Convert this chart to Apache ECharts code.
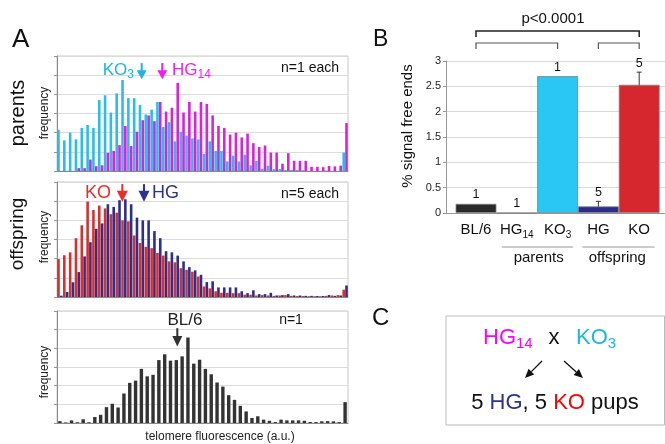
<!DOCTYPE html>
<html><head><meta charset="utf-8">
<script src="https://cdn.jsdelivr.net/npm/echarts@6/dist/echarts.min.js"></script>
<style>html,body{margin:0;padding:0;background:#fff}#c{width:665px;height:444px}</style>
</head><body><div id="c"></div>
<script>
// ---------- DATA ----------
const bins = Array.from({length: 50}, (_, i) => String(i + 1));   // histogram bin labels
const parentsKO3 = [2.15,1.6,2.0,1.65,2.25,2.4,2.25,3.7,3.95,3.05,4.05,4.75,3.8,3.8,3.45,2.95,3.2,3.6,2.3,2.55,1.55,2.05,1.85,1.7,1.65,0.9,1.55,1.05,1.05,0.5,0.8,0.5,0.85,0.3,0.53,0.12,0.28,0.1,0.1,0.05,0.06,0.05,0.04,0,0,0,0.02,0,0,0.96];
const parentsHG14 = [0,0,0,0.15,0.15,0.6,0.25,0.3,0.95,1.05,1.35,2.35,1.3,2.05,2.65,2.9,2.6,3.6,3.1,3.3,4.6,3.05,3.6,3.1,3.6,3.5,2.9,2.35,2.25,1.9,2.0,1.75,1.95,1.45,1.25,1.33,0.96,0.96,0.38,0.93,0.53,0.53,0.53,0.22,0.22,0.2,0.26,0.24,0.28,2.5];
const offspringKO = [1.98,2.18,2.33,3.07,3.74,4.98,4.54,4.77,4.62,4.32,4.4,4.0,3.95,3.21,2.82,2.62,2.55,2.3,2.16,1.86,1.81,1.5,1.42,1.32,1.07,0.55,0.45,0.3,0.22,0.22,0.2,0.2,0.12,0.12,0.08,0.1,0.08,0.06,0.08,0.1,0.06,0.05,0.05,0.04,0.04,0.04,0.06,0.08,0.1,0.38];
const offspringHG = [0.07,0.26,0.77,1.3,2.12,2.86,3.56,3.84,4.84,4.7,5.05,5.1,4.84,4.14,4.0,4.0,3.44,3.07,2.39,2.33,2.16,1.86,1.56,1.39,1.16,0.78,0.82,0.5,0.5,0.5,0.5,0.3,0.2,0.35,0.15,0.15,0.22,0.08,0.1,0.15,0.08,0.08,0.06,0.06,0.05,0.05,0.1,0.06,0.08,0.6];
const bl6 = [0.1,0.03,0.14,0.04,0.2,0.04,0.32,0.44,0.85,1.03,0.83,1.58,2.15,2.27,2.9,2.5,2.58,3.37,3.68,3.34,3.37,3.57,4.58,3.18,3.39,2.9,2.61,2.17,1.95,1.49,1.24,0.92,0.62,0.27,0.36,0.18,0.12,0.05,0.18,0.14,0.14,0.14,0.12,0.05,0.05,0.09,0.1,0.09,0.05,1.12];

const bCats = ['BL/6', 'HG14', 'KO3', 'HG', 'KO'];
const bValues = [0.18, 0, 2.70, 0.13, 2.53];
const bErrors = [0, 0, 0, 0.10, 0.25];
const bN = ['1', '1', '1', '5', '5'];

// ---------- STYLE ----------
const FF = "'Liberation Sans', Arial, Helvetica, sans-serif";
const C_CYAN = '#2bbde8', C_MAG = '#d922d9', C_RED = '#d8302f', C_BLUE = '#2d2f8e', C_DARK = '#333333';
const bColors = ['#2a2a2a', '#ff00ff', '#2ac6f4', '#2b2d8c', '#d6272e'];

const chart = echarts.init(document.getElementById('c'), null, {renderer: 'canvas'});

function histX(g) {
  return {type: 'category', gridIndex: g, data: bins, boundaryGap: true,
    axisLabel: {show: false}, axisTick: {show: false}, splitLine: {show: false},
    axisLine: {show: true, lineStyle: {color: '#8a8a8a', width: 1}}};
}
function histY(g) {
  return {type: 'value', gridIndex: g, min: 0, max: 6, interval: 1,
    axisLabel: {show: false},
    axisTick: {show: true, length: 3, lineStyle: {color: '#9a9a9a'}},
    axisLine: {show: true, lineStyle: {color: '#8a8a8a'}},
    splitLine: {show: true, lineStyle: {color: '#dcdcdc'}}};
}
function histBar(arr, g, color, w, gap) {
  return {type: 'bar', xAxisIndex: g, yAxisIndex: g, data: arr, barWidth: w, barGap: gap || '8%',
    itemStyle: {color: color}, silent: true};
}

const gridBox = {show: true, borderColor: '#c8c8c8', borderWidth: 1};
const option = {
  animation: false,
  backgroundColor: '#fff',
  grid: [
    Object.assign({left: 57, top: 56, width: 291, height: 115}, gridBox),
    Object.assign({left: 57, top: 182, width: 291, height: 115}, gridBox),
    Object.assign({left: 57, top: 311, width: 291, height: 112}, gridBox),
    {left: 455.6, top: 61, width: 204, height: 152},
    {left: 446, top: 61, width: 219, height: 152}
  ],
  xAxis: [histX(0), histX(1), histX(2),
    {type: 'category', gridIndex: 3, data: bCats,
      axisLine: {show: false}, axisTick: {show: false},
      axisLabel: {margin: 7, interval: 0,
        formatter: v => /^[A-Z]+\d+$/.test(v) ? v.replace(/^([A-Z]+)(\d+)$/, '{m|$1}{s|$2}') : '{m|' + v + '}',
        rich: {m: {fontSize: 15, lineHeight: 20, fontFamily: FF, color: '#111'},
               s: {fontSize: 10, lineHeight: 10, verticalAlign: 'bottom', fontFamily: FF, color: '#111'}}}},
    {type: 'value', gridIndex: 4, min: 0, max: 1, axisLabel: {show: false}, axisTick: {show: false},
      splitLine: {show: false}, axisLine: {show: true, lineStyle: {color: '#999'}}}
  ],
  yAxis: [histY(0), histY(1), histY(2),
    {type: 'value', gridIndex: 3, min: 0, max: 3, interval: 0.5, show: false},
    {type: 'value', gridIndex: 4, min: 0, max: 3, interval: 0.5,
      axisLabel: {fontSize: 11, color: '#222', fontFamily: FF, margin: 5},
      axisTick: {show: true, length: 3, lineStyle: {color: '#999'}},
      axisLine: {show: true, lineStyle: {color: '#999'}},
      splitLine: {lineStyle: {color: '#d9d9d9'}}}
  ],
  series: [
    histBar(parentsKO3, 0, C_CYAN, 2.6),
    histBar(parentsHG14, 0, C_MAG, 2.6),
    histBar(offspringKO, 1, C_RED, 2.6),
    histBar(offspringHG, 1, C_BLUE, 2.6),
    histBar(bl6, 2, C_DARK, 3.4),
    {type: 'bar', xAxisIndex: 3, yAxisIndex: 3, barCategoryGap: '0%',
      data: bValues.map((v, i) => ({value: v, itemStyle: {color: bColors[i]}})),
      itemStyle: {borderColor: '#7d7d7d', borderWidth: 0.8}, silent: true},
    {type: 'custom', xAxisIndex: 3, yAxisIndex: 3, silent: true,
      data: bValues.map((v, i) => [i, v, bErrors[i]]),
      renderItem: function (params, api) {
        const i = api.value(0), v = api.value(1), e = api.value(2);
        const top = api.coord([i, v + e]);
        const children = [];
        if (e > 0) {
          const bot = api.coord([i, v - e]);
          const x = top[0];
          const st = {stroke: '#333', lineWidth: 1};
          children.push({type: 'line', shape: {x1: x, y1: top[1], x2: x, y2: bot[1]}, style: st});
          children.push({type: 'line', shape: {x1: x - 2.5, y1: top[1], x2: x + 2.5, y2: top[1]}, style: st});
          children.push({type: 'line', shape: {x1: x - 2.5, y1: bot[1], x2: x + 2.5, y2: bot[1]}, style: st});
        }
        children.push({type: 'text', x: top[0], y: top[1] - 9,
          style: {text: bN[params.dataIndex], fontSize: 12.5, fontFamily: FF, fill: '#111', align: 'center', verticalAlign: 'middle'}});
        return {type: 'group', children: children};
      }}
  ]
};
chart.setOption(option);

// ---------- ANNOTATIONS ----------
// position in bin units (fractional) -> pixel, interpolated between category centres
function px(g, xv, yv) {
  const i0 = Math.floor(xv), f = xv - i0;
  const a = chart.convertToPixel({gridIndex: g}, [i0, yv]);
  const b = chart.convertToPixel({gridIndex: g}, [i0 + 1, yv]);
  return [a[0] + (b[0] - a[0]) * f, a[1]];
}
function downArrow(g, xv, yTop, yTip, color, headLen, headW, shaftW) {
  const p1 = px(g, xv, yTop), p2 = px(g, xv, yTip);
  const x = p1[0];
  return [
    {type: 'line', shape: {x1: x, y1: p1[1], x2: x, y2: p2[1] - headLen + 1}, style: {stroke: color, lineWidth: shaftW}},
    {type: 'polygon', shape: {points: [[x - headW / 2, p2[1] - headLen], [x + headW / 2, p2[1] - headLen], [x, p2[1]]]}, style: {fill: color}}
  ];
}
function arrow(x1, y1, x2, y2, color, headLen, headW, lw) {
  const a = Math.atan2(y2 - y1, x2 - x1);
  const bx = x2 - headLen * Math.cos(a), by = y2 - headLen * Math.sin(a);
  const nx = -Math.sin(a) * headW / 2, ny = Math.cos(a) * headW / 2;
  return [
    {type: 'line', shape: {x1: x1, y1: y1, x2: bx, y2: by}, style: {stroke: color, lineWidth: lw}},
    {type: 'polygon', shape: {points: [[bx + nx, by + ny], [bx - nx, by - ny], [x2, y2]]}, style: {fill: color}}
  ];
}
function T(x, y, text, size, color, align, extra) {
  return Object.assign({type: 'text', x: x, y: y, style: Object.assign({text: text, fontSize: size, fontFamily: FF,
    fill: color, align: align || 'left', verticalAlign: 'middle'}, (extra && extra.style) || {})}, (extra && extra.el) || {});
}
function subText(x, y, main, sub, size, color, align) {
  return {type: 'text', x: x, y: y, style: {text: '{m|' + main + '}{s|' + sub + '}', align: align || 'left', verticalAlign: 'middle',
    rich: {m: {fontSize: size, lineHeight: size + 5, fontFamily: FF, fill: color},
           s: {fontSize: Math.round(size * 0.68), lineHeight: Math.round(size * 0.68), verticalAlign: 'bottom', fontFamily: FF, fill: color}}}};
}
const rot = Math.PI / 2;
const cx = i => chart.convertToPixel({gridIndex: 3}, [i, 0])[0];

const g = [];
// Panel letters
g.push(T(12, 40, 'A', 26, '#111'));
g.push(T(373, 40, 'B', 23, '#111'));
g.push(T(372, 318, 'C', 24, '#111'));
// Panel A labels
g.push(T(18, 113, 'parents', 20, '#111', 'center', {el: {rotation: rot}}));
g.push(T(18, 234, 'offspring', 19, '#111', 'center', {el: {rotation: rot}}));
g.push(T(45, 113, 'frequency', 12, '#222', 'center', {el: {rotation: rot}}));
g.push(T(45, 237, 'frequency', 12, '#222', 'center', {el: {rotation: rot}}));
g.push(T(45, 372, 'frequency', 12, '#222', 'center', {el: {rotation: rot}}));
g.push(T(220, 437, 'telomere fluorescence (a.u.)', 12, '#222', 'center'));
// parents annotations
g.push(subText(134, 70, 'KO', '3', 17, '#1eb4e6', 'right'));
g.push(subText(172, 70, 'HG', '14', 17, '#f01ef0', 'left'));
g.push(T(339, 68.5, 'n=1 each', 14, '#111', 'right'));
g.push(...downArrow(0, 14.05, 5.63, 4.79, '#1eb4e6', 9, 10, 2));
g.push(...downArrow(0, 17.59, 5.63, 4.79, '#f01ef0', 9, 10, 2));
// offspring annotations
g.push(T(111, 193.5, 'KO', 18, '#ee2a2a', 'right'));
g.push(T(152, 193.5, 'HG', 18, '#2e3192', 'left'));
g.push(T(339, 194, 'n=5 each', 14, '#111', 'right'));
g.push(...downArrow(1, 10.72, 5.89, 4.97, '#ee2a2a', 11, 11, 2));
g.push(...downArrow(1, 14.45, 5.89, 4.97, '#2e3192', 11, 11, 2));
// BL/6 annotations
g.push(T(185, 320, 'BL/6', 17, '#222', 'center'));
g.push(T(291, 320, 'n=1', 14, '#111', 'center'));
g.push(...downArrow(2, 20.17, 5.08, 4.10, '#333', 10.5, 10, 2));

// Panel B extras
g.push(T(408, 126, '% signal free ends', 15, '#111', 'center', {el: {rotation: rot}}));
g.push(T(553, 19, 'p<0.0001', 15, '#111', 'center'));
const br = (xa, xb, y, h, color, lw) => ({type: 'polyline', shape: {points: [[xa, y + h], [xa, y], [xb, y], [xb, y + h]]},
  style: {stroke: color, lineWidth: lw, fill: null}});
g.push(br(cx(0), cx(4), 31, 6, '#222', 1.5));
g.push(br(cx(0), cx(2), 43, 6, '#555', 1.2));
g.push(br(cx(3), cx(4), 43, 6, '#555', 1.2));
g.push({type: 'line', shape: {x1: cx(1) - 15, y1: 247, x2: cx(2) + 15.5, y2: 247}, style: {stroke: '#999', lineWidth: 1.2}});
g.push({type: 'line', shape: {x1: cx(3) - 16, y1: 247, x2: cx(4) + 15.5, y2: 247}, style: {stroke: '#999', lineWidth: 1.2}});
g.push(T((cx(1) + cx(2)) / 2 + 1.5, 258, 'parents', 15, '#111', 'center'));
g.push(T((cx(3) + cx(4)) / 2 - 1.5, 258, 'offspring', 15, '#111', 'center'));

// Panel C
g.push({type: 'rect', shape: {x: 446, y: 316, width: 218.5, height: 109}, style: {stroke: '#bbbbbb', lineWidth: 1, fill: null}});
g.push(subText(483, 338, 'HG', '14', 22, '#ff00ff', 'left'));
g.push(T(554, 338, 'x', 22, '#111', 'center'));
g.push(subText(576, 338, 'KO', '3', 22, '#19b6e6', 'left'));
g.push(...arrow(542, 361, 525, 378, '#111', 9, 8, 1.3));
g.push(...arrow(564, 361, 583, 378, '#111', 9, 8, 1.3));
g.push({type: 'text', x: 555, y: 403, style: {text: '{k|5 }{b|HG}{k|, 5 }{r|KO}{k| pups}', align: 'center', verticalAlign: 'middle',
  rich: {k: {fontSize: 22, fontFamily: FF, fill: '#111'}, b: {fontSize: 22, fontFamily: FF, fill: '#2e3192'}, r: {fontSize: 22, fontFamily: FF, fill: '#ff0000'}}}});

chart.setOption({graphic: {elements: g}});
</script></body></html>
